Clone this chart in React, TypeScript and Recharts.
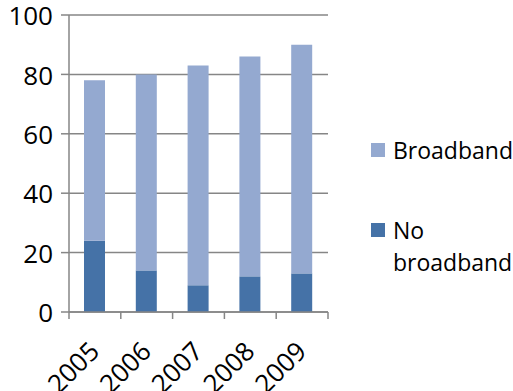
import React from "react";
import { BarChart, Bar, XAxis, YAxis, CartesianGrid } from "recharts";

const years = ["2005", "2006", "2007", "2008", "2009"];
const noBroadband = [24, 14, 9, 12, 13];
const broadband = [54, 66, 74, 74, 77];
const yTicks = [0, 20, 40, 60, 80, 100];

const LIGHT = "#94A9D0";
const DARK = "#4572A7";
const GRID = "#868686";
const FONT = "'Open Sans', sans-serif";

const data = years.map((year, i) => ({
  year,
  noBroadband: noBroadband[i],
  broadband: broadband[i],
}));

// Year label rotated -45°, plus tick marks drawn between categories
const XTick = (props: any) => {
  const { x, y, payload, index, width, visibleTicksCount } = props;
  const count = visibleTicksCount || years.length;
  const half = width / count / 2;
  const ax = x + 6;
  const ay = y + 41;
  return (
    <g>
      <line x1={x - half} x2={x - half} y1={y} y2={y + 7} stroke={GRID} strokeWidth={1.5} />
      {index === count - 1 && (
        <line x1={x + half} x2={x + half} y1={y} y2={y + 7} stroke={GRID} strokeWidth={1.5} />
      )}
      <text
        x={ax}
        y={ay}
        textAnchor="end"
        fontFamily={FONT}
        fontSize={26}
        fill="#000"
        transform={`rotate(-45, ${ax}, ${ay})`}
      >
        {payload.value}
      </text>
    </g>
  );
};

const LegendBox = () => (
  <div
    style={{
      position: "absolute",
      left: 371,
      top: 134,
      width: 142,
      fontFamily: FONT,
      fontSize: 23,
      color: "#000",
      lineHeight: "32px",
    }}
  >
    <div style={{ display: "flex", alignItems: "flex-start" }}>
      <span style={{ width: 14, height: 14, background: LIGHT, marginTop: 9, marginRight: 8, flex: "none" }} />
      <span>Broadband</span>
    </div>
    <div style={{ display: "flex", alignItems: "flex-start", marginTop: 48 }}>
      <span style={{ width: 14, height: 14, background: DARK, marginTop: 9, marginRight: 8, flex: "none" }} />
      <span>
        No
        <br />
        broadband
      </span>
    </div>
  </div>
);

export default function App() {
  return (
    <div style={{ position: "absolute", left: 0, top: 0, width: 513, height: 391, background: "#fff", overflow: "hidden" }}>
      <BarChart
        width={513}
        height={391}
        data={data}
        margin={{ top: 15, right: 185, left: 0, bottom: 0 }}
        barSize={21}
      >
        <CartesianGrid vertical={false} stroke={GRID} strokeWidth={1.5} />
        <XAxis
          dataKey="year"
          height={79}
          tickLine={false}
          tickSize={0}
          tickMargin={0}
          axisLine={{ stroke: GRID, strokeWidth: 1.5 }}
          tick={<XTick />}
          interval={0}
        />
        <YAxis
          domain={[0, 100]}
          ticks={yTicks}
          width={69}
          tickSize={8}
          tickMargin={8}
          tickLine={{ stroke: GRID, strokeWidth: 1.5 }}
          axisLine={{ stroke: GRID, strokeWidth: 1.5 }}
          tick={{ fontFamily: FONT, fontSize: 26, fill: "#000", dy: 1 }}
        />
        <Bar dataKey="noBroadband" stackId="a" fill={DARK} isAnimationActive={false} />
        <Bar dataKey="broadband" stackId="a" fill={LIGHT} isAnimationActive={false} />
      </BarChart>
      <LegendBox />
    </div>
  );
}
